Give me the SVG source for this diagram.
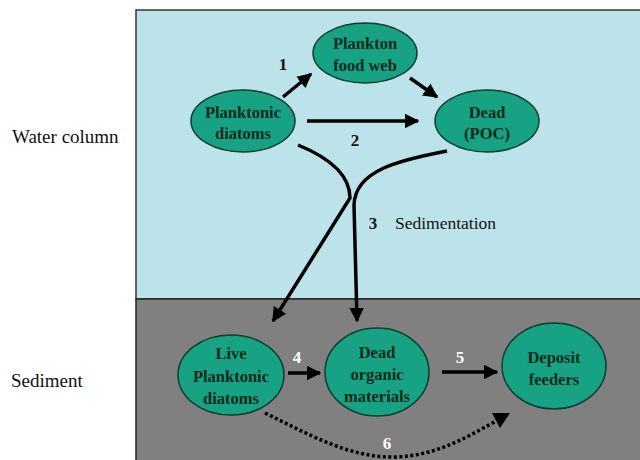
<svg xmlns="http://www.w3.org/2000/svg" width="640" height="460" viewBox="0 0 640 460">
<style>
.node ellipse{fill:#17a283;stroke:#0b3d30;stroke-width:1.5}
.node text{font-family:"Liberation Serif",serif;font-weight:bold;font-size:16.5px;fill:#0a2a20;text-anchor:middle}
.lbl{font-family:"Liberation Serif",serif;font-size:19px;fill:#111}
.num{font-family:"Liberation Serif",serif;font-weight:bold;font-size:17px;fill:#111;text-anchor:middle}
.wnum{font-family:"Liberation Serif",serif;font-weight:bold;font-size:17px;fill:#fff;text-anchor:middle}
.arr{fill:none;stroke:#000;stroke-width:3.5}
</style>
<defs>
<marker id="ah" viewBox="0 0 10 10" refX="9" refY="5" markerWidth="4.2" markerHeight="4.2" orient="auto" markerUnits="strokeWidth">
<path d="M0,0 L10,5 L0,10 z" fill="#000"/>
</marker>
</defs>
<rect x="0" y="0" width="640" height="460" fill="#fff"/>
<rect x="136" y="10" width="506" height="289" fill="#bde3ea" stroke="#333" stroke-width="1.5"/>
<rect x="136" y="299" width="506" height="163" fill="#808080" stroke="#222" stroke-width="1.5"/>
<text class="lbl" x="12" y="143">Water column</text>
<text class="lbl" x="11" y="387">Sediment</text>
<g id="connectors">
<path class="arr" d="M283,97 L311,74" marker-end="url(#ah)"/>
<path class="arr" d="M410,78 L437,97" marker-end="url(#ah)"/>
<path class="arr" stroke-width="4" d="M307,121 L418,121" marker-end="url(#ah)"/>
<path class="arr" stroke-width="3" d="M298,145 C330,158 350,175 350,198 L273,321" marker-end="url(#ah)"/>
<path class="arr" stroke-width="3" d="M447,151 C400,160 355,170 354,205 L357,321" marker-end="url(#ah)"/>
<path class="arr" d="M288,373 L320,373" marker-end="url(#ah)"/>
<path class="arr" d="M442,372 L497,372" marker-end="url(#ah)"/>
<path class="arr" stroke-dasharray="3,2.5" d="M265,413 C310,435 350,458 395,457 C440,456 475,432 498,420"/>
<path d="M510,413 L492,413 L500,428 z" fill="#000"/>
<text class="num" x="283" y="70">1</text>
<text class="num" x="355" y="146">2</text>
<text class="num" x="373" y="229">3</text>
<text class="lbl" x="395" y="229" style="font-size:17.5px">Sedimentation</text>
<text class="wnum" x="297" y="363">4</text>
<text class="wnum" x="460" y="363">5</text>
<text class="wnum" x="387" y="449">6</text>
</g>
<g id="n-plankton" class="node"><ellipse cx="365" cy="53" rx="52" ry="30"/><text x="365" y="49">Plankton</text><text x="365" y="71">food web</text></g>
<g id="n-diatoms" class="node"><ellipse cx="243" cy="121" rx="52" ry="31"/><text x="243" y="118">Planktonic</text><text x="243" y="139">diatoms</text></g>
<g id="n-poc" class="node"><ellipse cx="487" cy="121" rx="52" ry="31"/><text x="487" y="118">Dead</text><text x="487" y="139">(POC)</text></g>
<g id="n-live" class="node"><ellipse cx="231" cy="375" rx="53" ry="40"/><text x="231" y="359">Live</text><text x="231" y="382">Planktonic</text><text x="231" y="404">diatoms</text></g>
<g id="n-deadorg" class="node"><ellipse cx="377" cy="372" rx="52" ry="44"/><text x="377" y="358">Dead</text><text x="377" y="380">organic</text><text x="377" y="402">materials</text></g>
<g id="n-deposit" class="node"><ellipse cx="554" cy="366" rx="52" ry="43"/><text x="554" y="363">Deposit</text><text x="554" y="385">feeders</text></g>
</svg>
